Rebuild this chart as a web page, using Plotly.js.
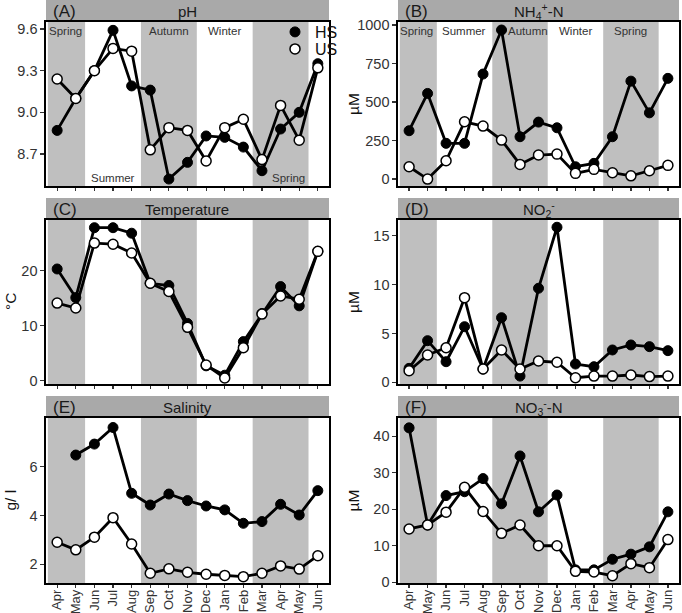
<!DOCTYPE html>
<html>
<head>
<meta charset="utf-8">
<script src="https://cdn.plot.ly/plotly-3.0.1.min.js"></script>
<style>html,body{margin:0;padding:0;background:#fff;}#chart{width:682px;height:613px;}</style>
</head>
<body>
<div id="chart"></div>
<script>
// ---- data ----
const months = ["Apr","May","Jun","Jul","Aug","Sep","Oct","Nov","Dec","Jan","Feb","Mar","Apr","May","Jun"];
const seasons = ["Spring","Spring","Summer","Summer","Summer","Autumn","Autumn","Autumn","Winter","Winter","Winter","Spring","Spring","Spring","Summer"];
const shadedSeasons = ["Spring","Autumn"];

const phHS  = [8.87, 9.10, 9.30, 9.59, 9.19, 9.16, 8.52, 8.64, 8.83, 8.82, 8.75, 8.58, 8.88, 9.00, 9.35];
const phUS  = [9.24, 9.10, 9.30, 9.46, 9.44, 8.73, 8.89, 8.87, 8.65, 8.89, 8.95, 8.66, 9.05, 8.80, 9.32];
const nh4HS = [314, 556, 232, 232, 682, 968, 275, 370, 333, 80, 102, 275, 636, 430, 654];
const nh4US = [80, 0, 119, 372, 344, 253, 95, 156, 162, 37, 63, 41, 21, 54, 89];
const tempHS = [20.3, 15.1, 27.8, 27.8, 26.8, 17.7, 17.3, 10.4, 2.7, 1.0, 7.1, 12.2, 17.1, 13.6, 23.5];
const tempUS = [14.1, 13.2, 25.0, 24.8, 23.2, 17.7, 16.2, 9.7, 2.85, 0.5, 6.0, 12.1, 15.4, 14.8, 23.5];
const no2HS = [1.43, 4.26, 2.11, 5.69, 1.36, 6.61, 0.64, 9.62, 15.86, 1.87, 1.60, 3.31, 3.82, 3.65, 3.24];
const no2US = [1.19, 2.79, 3.54, 8.66, 1.36, 3.31, 1.36, 2.18, 2.05, 0.47, 0.64, 0.64, 0.75, 0.59, 0.64];
const salHS = [null, 6.48, 6.93, 7.61, 4.91, 4.43, 4.88, 4.61, 4.39, 4.23, 3.68, 3.75, 4.46, 4.02, 5.02];
const salUS = [2.90, 2.59, 3.11, 3.91, 2.83, 1.63, 1.81, 1.67, 1.59, 1.54, 1.49, 1.63, 1.93, 1.80, 2.35];
const no3HS = [42.3, 15.7, 23.75, 24.8, 28.4, 21.5, 34.6, 19.3, 23.9, 3.4, 3.4, 6.3, 7.7, 9.7, 19.3];
const no3US = [14.6, 15.7, 19.2, 26.0, 19.4, 13.4, 15.7, 10.0, 10.0, 3.0, 2.8, 1.8, 5.1, 4.0, 11.7];

const seriesNames = ["HS", "US"];
const panelLetters = ["(A)","(B)","(C)","(D)","(E)","(F)"];
const panelTitles = ["pH", "NH<sub>4</sub><sup>+</sup>-N", "Temperature", "NO<sub>2</sub><sup>-</sup>", "Salinity", "NO<sub>3</sub><sup>-</sup>-N"];
const yTitles = ["", "µM", "°C", "µM", "g/ l", "µM"];
const yTicks = [[8.7, 9.0, 9.3, 9.6], [0, 250, 500, 750, 1000], [0, 10, 20], [0, 5, 10, 15], [2, 4, 6], [0, 10, 20, 30, 40]];
const seasonLabelsA = [["Spring", 0.45, "top"], ["Summer", 3, "bottom"], ["Autumn", 6, "top"], ["Winter", 9, "top"], ["Spring", 12.4, "bottom"]];
const seasonLabelsB = [["Spring", 0.41, "top"], ["Summer", 2.95, "top"], ["Autumn", 6.44, "top"], ["Winter", 9, "top"], ["Spring", 12, "top"]];

const panelsHS = [phHS, nh4HS, tempHS, no2HS, salHS, no3HS];
const panelsUS = [phUS, nh4US, tempUS, no2US, salUS, no3US];

// ---- layout geometry (px) ----
const W = 682, H = 613;
const colX = [[46, 329], [398, 679]];
const rowY = [[22, 186], [220, 384], [418, 583]];
const yTitleX = [10, 353];
const stripH = 22;
const yRanges = [[8.47, 9.65], [-45, 1020], [-0.6, 29.2], [-0.17, 16.6], [1.23, 8.0], [-0.2, 45]];
const xRange = [-0.6, 14.6];
const FONT = "Liberation Sans, Arial, sans-serif";

const xIdx = months.map((m, i) => i);
const traces = [];
const shapes = [];
const annotations = [];
const legendBase = {xanchor: "left", yanchor: "top", bgcolor: "rgba(0,0,0,0)", borderwidth: 0,
  font: {size: 16, color: "#111", family: FONT}, itemwidth: 30};
const layout = {
  width: W, height: H,
  margin: {l: 0, r: 0, t: 0, b: 0},
  paper_bgcolor: "#ffffff", plot_bgcolor: "#ffffff",
  font: {family: FONT, color: "#333333"},
  showlegend: true,
  legend: Object.assign({x: 275 / W, y: 1 - 15 / H}, legendBase),
  legend2: Object.assign({x: 275 / W, y: 1 - 32 / H}, legendBase),
};

// season bands from the month seasons
const bands = [];
let start = 0;
for (let i = 1; i <= seasons.length; i++) {
  if (i === seasons.length || seasons[i] !== seasons[start]) {
    if (shadedSeasons.includes(seasons[start])) bands.push([start - 0.5, i - 0.5]);
    start = i;
  }
}

for (let p = 0; p < 6; p++) {
  const row = Math.floor(p / 2), col = p % 2;
  const sfx = p === 0 ? "" : String(p + 1);
  const xa = "x" + sfx, ya = "y" + sfx;
  const xd = [colX[col][0] / W, colX[col][1] / W];
  const yd = [1 - rowY[row][1] / H, 1 - rowY[row][0] / H];

  layout["xaxis" + sfx] = {
    domain: xd, anchor: ya, range: xRange,
    tickmode: "array", tickvals: xIdx, ticktext: months,
    showticklabels: row === 2, tickangle: -90, ticklabelstandoff: -3,
    ticks: "outside", ticklen: 3, tickwidth: 1.2, tickcolor: "#333",
    tickfont: {size: 13, color: "#333"},
    showline: true, mirror: true, linecolor: "#000", linewidth: 1.6,
    showgrid: false, zeroline: false, fixedrange: true
  };
  layout["yaxis" + sfx] = {
    domain: yd, anchor: xa, range: yRanges[p],
    tickmode: "array", tickvals: yTicks[p],
    ticktext: yTicks[p].map(v => p === 0 ? v.toFixed(1) : String(v)),
    ticks: "outside", ticklen: 4, tickwidth: 1.2, tickcolor: "#333",
    tickfont: {size: 14.5, color: "#333"},
    showline: true, mirror: true, linecolor: "#000", linewidth: 1.6,
    showgrid: false, zeroline: false, fixedrange: true
  };

  // y axis title
  if (yTitles[p]) {
    annotations.push({xref: "paper", yref: "paper", x: yTitleX[col] / W, y: (yd[0] + yd[1]) / 2,
      text: yTitles[p], textangle: -90, showarrow: false, xanchor: "center", yanchor: "middle",
      font: {size: 15.5, color: "#111", family: FONT}});
  }

  // season shading
  bands.forEach(b => {
    shapes.push({type: "rect", xref: xa, yref: ya + " domain",
      x0: Math.max(b[0], xRange[0]), x1: Math.min(b[1], xRange[1]), y0: 0, y1: 1,
      fillcolor: "#bfbfbf", line: {width: 0}, layer: "below"});
  });
  // strip header
  shapes.push({type: "rect", xref: "paper", yref: "paper",
    x0: xd[0], x1: xd[1], y0: yd[1], y1: yd[1] + stripH / H,
    fillcolor: "#a9a9a9", line: {width: 0}, layer: "below"});
  annotations.push({xref: "paper", yref: "paper", x: (xd[0] + xd[1]) / 2, y: yd[1] + stripH / 2 / H,
    text: panelTitles[p], showarrow: false, xanchor: "center", yanchor: "middle",
    font: {size: 15, color: "#1a1a1a", family: FONT}});
  annotations.push({xref: "paper", yref: "paper", x: xd[0] + 5 / W, y: yd[1] + stripH / 2 / H,
    text: panelLetters[p], showarrow: false, xanchor: "left", yanchor: "middle",
    font: {size: 17, color: "#1a1a1a", family: FONT}});

  traces.push({x: xIdx, y: panelsHS[p], xaxis: xa, yaxis: ya, type: "scatter", mode: "lines+markers",
    name: seriesNames[0], showlegend: false,
    line: {color: "#000", width: 2.8},
    marker: {color: "#000", size: 10, line: {color: "#000", width: 1}}});
  traces.push({x: xIdx, y: panelsUS[p], xaxis: xa, yaxis: ya, type: "scatter", mode: "lines+markers",
    name: seriesNames[1], showlegend: false,
    line: {color: "#000", width: 2.8},
    marker: {color: "#fff", size: 10, line: {color: "#000", width: 1.5}}});
}

// season labels
function addSeasonLabels(list, xa, ya) {
  list.forEach(s => {
    annotations.push({xref: xa, yref: ya + " domain", x: s[1], y: s[2] === "top" ? 1 : 0,
      yshift: s[2] === "top" ? -9 : 8,
      text: s[0], showarrow: false, xanchor: "center", yanchor: "middle",
      font: {size: 11.5, color: "#333", family: FONT}});
  });
}
addSeasonLabels(seasonLabelsA, "x", "y");
addSeasonLabels(seasonLabelsB, "x2", "y2");

// legend entries (marker only), one per legend box
traces.push({x: [null], y: [null], xaxis: "x", yaxis: "y", type: "scatter", mode: "markers",
  name: seriesNames[0], showlegend: true, legend: "legend",
  marker: {color: "#000", size: 10, line: {color: "#000", width: 1}}});
traces.push({x: [null], y: [null], xaxis: "x", yaxis: "y", type: "scatter", mode: "markers",
  name: seriesNames[1], showlegend: true, legend: "legend2",
  marker: {color: "#fff", size: 10, line: {color: "#000", width: 1.5}}});

layout.shapes = shapes;
layout.annotations = annotations;

Plotly.newPlot("chart", traces, layout, {staticPlot: true, displayModeBar: false});
</script>
</body>
</html>
